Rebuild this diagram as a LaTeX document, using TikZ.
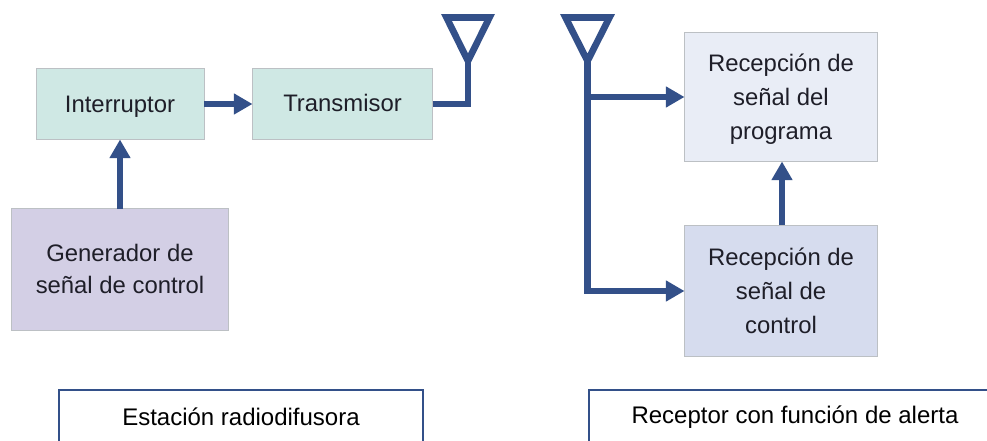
\documentclass[tikz,border=0pt]{standalone}
\usepackage{fontspec}
\setmainfont{Liberation Sans}
\usetikzlibrary{arrows.meta}
\definecolor{wire}{HTML}{335089}
\definecolor{tealbox}{HTML}{CFE8E4}
\definecolor{purplebox}{HTML}{D3CFE5}
\definecolor{palebox}{HTML}{E9EDF6}
\definecolor{bluebox}{HTML}{D6DCEE}
\definecolor{edge}{HTML}{BCC0C4}
\definecolor{ink}{HTML}{1E1E28}
\newcommand{\tallp}{\vphantom{Tp}}
\newcommand{\topgap}[1]{\rule{0pt}{#1}}
\tikzset{
  x=0.75pt,y=-0.75pt,
  block/.style={draw=edge,line width=0.75pt,text=ink,inner sep=0pt,outer sep=0pt,align=center,
    font=\fontsize{17.9pt}{25.5pt}\selectfont},
  caption/.style={draw=wire,line width=1.5pt,fill=white,text=black,inner sep=0pt,outer sep=0pt,
    font=\fontsize{18pt}{21pt}\selectfont},
  wireline/.style={draw=wire,line width=5pt,line cap=butt,line join=miter},
  wirearrow/.style={wireline,-{Triangle[length=14pt,width=15pt]}},
  antenna/.style={draw=wire,line width=5pt,line join=miter}
}
\begin{document}
\begin{tikzpicture}
\useasboundingbox (0,0) rectangle (987,441);
\clip (0,0) rectangle (987,441);
\node[block,fill=tealbox,minimum width=126pt,minimum height=53.25pt] (int) at (120,104) {\tallp\topgap{15.8pt}Interruptor};
\node[block,fill=tealbox,minimum width=135pt,minimum height=53.25pt] (tx) at (342.5,104) {\tallp\topgap{15pt}Transmisor};
\node[block,fill=purplebox,minimum width=162.75pt,minimum height=90.75pt,
  font=\fontsize{17.9pt}{24pt}\selectfont] (gen) at (120,269.5) {Generador de\\señal de control\rule[-1.5pt]{0pt}{1.5pt}};
\node[block,fill=palebox,minimum width=144.75pt,minimum height=96.75pt] (prog) at (781,97) {\topgap{16.8pt}Recepción de\\señal del\\programa};
\node[block,fill=bluebox,minimum width=144.75pt,minimum height=98.25pt] (ctrl) at (781,291) {Recepción de\\señal de\\control};
\node[caption,minimum width=273pt,minimum height=40.5pt] (est) at (241,417) {Estación radiodifusora};
\node[caption,minimum width=309pt,minimum height=40.5pt] (rec) at (795,417) {\topgap{14pt}Receptor con función de alerta};
% antennas
\coordinate (a1) at (468,61);
\coordinate (a2) at (587.5,61);
\draw[antenna] (446.5,17.5) -- (489.5,17.5) -- (468,61) -- cycle;
\draw[antenna] (565.5,17.5) -- (609.5,17.5) -- (587.5,61) -- cycle;
% connectors
\draw[wirearrow] (int.east) -- (tx.west);
\draw[wirearrow] (gen.north) -- (int.south);
\draw[wireline] (tx.east) -- (tx.east -| a1) -- (a1);
\draw[wirearrow] (a2) |- (ctrl.west);
\draw[wirearrow] (a2 |- prog.west) -- (prog.west);
\draw[wirearrow] ([xshift=0.75pt]ctrl.north) -- ([xshift=0.75pt]prog.south);
\end{tikzpicture}
\end{document}
